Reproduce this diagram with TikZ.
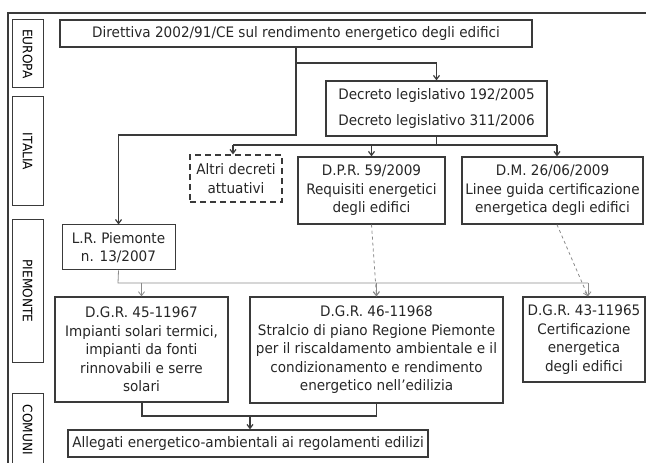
\documentclass[tikz,border=0pt]{standalone}
\usepackage{fontspec}
\setmainfont{DejaVu Sans}[FakeStretch=0.94]
\usetikzlibrary{arrows.meta}
\definecolor{ln}{HTML}{3A3A3A}
\definecolor{lg}{HTML}{8A8A8A}
\tikzset{
  box/.style={draw=ln, line width=1.3bp, align=center, inner sep=1bp, font=\fontsize{14.5}{18.5}\selectfont, text=black!85},
  sidebox/.style={draw=ln, line width=1bp, align=center, inner sep=1bp, font=\fontsize{13}{15}\selectfont, rotate=-90},
  conn/.style={draw=ln, line width=1.2bp},
  thin/.style={draw=lg, line width=0.8bp},
  tip/.style={-{Straight Barb[length=4bp,width=6bp]}},
}
\begin{document}
\begin{tikzpicture}[x=1bp,y=-1bp]
\useasboundingbox (0,0) rectangle (646,463);
% outer frame
\draw[ln, line width=1.3bp] (646,13) -- (8,13) -- (8,470);
% side labels
\node[sidebox, minimum width=68bp, minimum height=31bp] (eu) at (27.5,54) {EUROPA};
\node[sidebox, minimum width=109bp, minimum height=31bp] (it) at (27.5,151.5) {ITALIA};
\node[sidebox, minimum width=142bp, minimum height=31bp] (pm) at (27.5,291) {PIEMONTE};
\node[sidebox, minimum width=74bp, minimum height=31bp] (cm) at (27.5,430) {COMUNI};
% main boxes
\node[box, minimum width=472bp, minimum height=27bp] (dir) at (296,33.5) {Direttiva 2002/91/CE sul rendimento energetico degli edifici};
\node[box, minimum width=221bp, minimum height=55bp] (dlgs) at (436.5,108.5) {Decreto legislativo 192/2005\\[7bp]Decreto legislativo 311/2006};
\node[box, dash pattern=on 6bp off 4bp, minimum width=92bp, minimum height=47bp] (altri) at (236,178.5) {Altri decreti\\attuativi};
\node[box, minimum width=147bp, minimum height=67bp] (dpr) at (371.5,190.5) {D.P.R. 59/2009\\Requisiti energetici\\degli edifici};
\node[box, minimum width=181bp, minimum height=67bp] (dm) at (552.5,190.5) {D.M. 26/06/2009\\Linee guida certificazione\\energetica degli edifici};
\node[box, line width=1bp, minimum width=113bp, minimum height=45bp] (lr) at (118.5,247.5) {L.R. Piemonte\\n. 13/2007};
\node[box, minimum width=173bp, minimum height=105bp] (g45) at (141.5,349.5) {D.G.R. 45-11967\\Impianti solari termici,\\impianti da fonti\\rinnovabili e serre\\solari};
\node[box, minimum width=253bp, minimum height=106bp] (g46) at (376.5,350) {D.G.R. 46-11968\\Stralcio di piano Regione Piemonte\\per il riscaldamento ambientale e il\\condizionamento e rendimento\\energetico nell'edilizia};
\node[box, minimum width=122bp, minimum height=85bp] (g43) at (584,339.5) {D.G.R. 43-11965\\Certificazione\\energetica\\degli edifici};
\node[box, minimum width=360bp, minimum height=27bp] (al) at (248,443.5) {Allegati energetico-ambientali ai regolamenti edilizi};
% junction coordinates
\coordinate (j1) at (296,135);
\coordinate (j2) at (296,63);
\coordinate (j3) at (436.5,145);
\coordinate (j3l) at (233,145);
\coordinate (j3r) at (557,145);
\coordinate (j4) at (118,283);
\coordinate (j4r) at (588,283);
\coordinate (j5) at (142,416);
\coordinate (j6) at (250,416);
% upper connectors
\draw[conn, tip] (dir.south) -- (j1) -| (lr.north);
\draw[conn, tip] (j2) -| (dlgs.north);
\draw[conn] (dlgs.south) -- (j3);
\draw[conn] (j3l) -- (j3r);
\draw[conn, tip] (j3l) -- (j3l |- altri.north);
\draw[conn, tip] (j3 -| dpr.north) -- (dpr.north);
\draw[conn, tip] (j3r) -- (j3r |- dm.north);
% lower connectors
\draw[thin] (lr.south) -- (j4) -- (j4r);
\draw[thin, tip] (j4 -| g45.north) -- (g45.north);
\draw[thin, tip] (j4 -| g46.north) -- (g46.north);
\draw[thin, tip] (j4r) -- (j4r |- g43.north);
\draw[thin, dashed, tip] (dpr.south) -- (g46.north);
\draw[thin, dashed, tip] (dpr.south -| j3r) -- (j4r |- g43.north);
% bottom connectors
\draw[conn] (g45.south -| j5) -- (j5) -| (g46.south);
\draw[conn, tip] (j6) -- (j6 |- al.north);
\end{tikzpicture}
\end{document}
